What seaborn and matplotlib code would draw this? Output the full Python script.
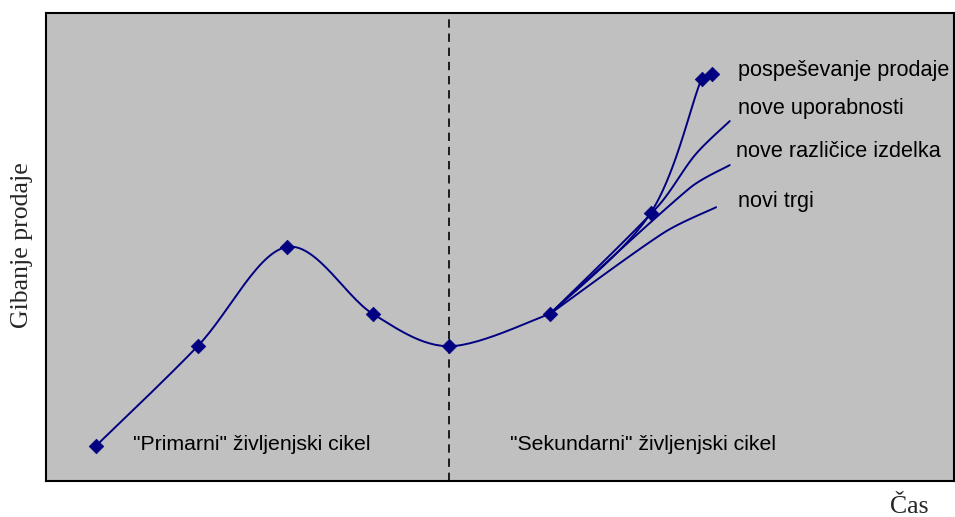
import numpy as np
import pandas as pd
import matplotlib
matplotlib.use("Agg")
import matplotlib.pyplot as plt
import seaborn as sns

# Main life-cycle curve (time, sales movement)
main_t = [5.5, 16.7, 26.5, 36.0, 44.4, 55.5]
main_v = [7.5, 28.8, 50.0, 35.7, 28.8, 35.7]

# Branches of the "secondary" life cycle, all starting from the last main point
promo_t = [55.5, 66.6, 72.2, 73.3]
promo_v = [35.7, 57.3, 85.9, 87.0]

uses_t = [55.5, 67.3, 71.5, 75.3]
uses_v = [35.7, 58.5, 69.7, 76.9]

variants_t = [55.5, 70.9, 75.3]
variants_v = [35.7, 62.6, 67.5]

markets_t = [55.5, 68.0, 73.8]
markets_v = [35.7, 53.0, 58.5]

divider_t = 44.4

branch_labels = ["pospeševanje prodaje", "nove uporabnosti",
                 "nove različice izdelka", "novi trgi"]
phase_labels = ['"Primarni" življenjski cikel', '"Sekundarni" življenjski cikel']

NAVY = "#000080"
GREY = "#C0C0C0"

# aspect of the plotting box (width, height per data unit) for the smoothing
SX, SY = 9.08, 4.68


def smooth(ts, vs, steps=30):
    """Bezier smoothing through the points with clamped control handles."""
    p = np.column_stack([np.asarray(ts) * SX, np.asarray(vs) * SY]).astype(float)
    n = len(p)
    out = [p[0]]

    def clamp(vec, limit):
        L = np.hypot(*vec)
        return vec if L <= limit or L == 0 else vec * (limit / L)

    for i in range(n - 1):
        p0 = p[i - 1] if i > 0 else p[i]
        p1, p2 = p[i], p[i + 1]
        p3 = p[i + 2] if i + 2 < n else p[i + 1]
        seg_len = np.hypot(*(p2 - p1))
        c1 = p1 + clamp((p2 - p0) / 6.0, seg_len / 3.0)
        c2 = p2 - clamp((p3 - p1) / 6.0, seg_len / 3.0)
        s = np.linspace(0, 1, steps)[1:, None]
        seg = ((1 - s) ** 3) * p1 + 3 * ((1 - s) ** 2) * s * c1 + 3 * (1 - s) * s ** 2 * c2 + s ** 3 * p2
        out.extend(seg)
    out = np.array(out)
    return out[:, 0] / SX, out[:, 1] / SY


sns.set_style("white")
plt.rcParams["font.family"] = ["Liberation Sans", "DejaVu Sans"]

fig = plt.figure(figsize=(9.55, 5.17), dpi=100)
ax = fig.add_axes([46 / 955, 36 / 517, 908 / 955, 468 / 517])
ax.set_facecolor(GREY)

curves = [(main_t, main_v), (markets_t, markets_v), (variants_t, variants_v),
          (uses_t, uses_v), (promo_t, promo_v)]
for ts, vs in curves:
    sx, sy = smooth(ts, vs)
    sns.lineplot(x=sx, y=sy, ax=ax, color=NAVY, linewidth=1.4, sort=False,
                 estimator=None, legend=False)

# Diamond markers on the measured points
pts = pd.DataFrame({
    "t": main_t + promo_t[1:],
    "v": main_v + promo_v[1:],
})
sns.scatterplot(data=pts, x="t", y="v", ax=ax, marker="D", s=55, color=NAVY,
                edgecolor=NAVY, linewidth=0.5, zorder=5, legend=False)

ax.axvline(divider_t, color="black", linestyle=(0, (5, 3.5)), linewidth=1.2)

ax.set_xlim(0, 100)
ax.set_ylim(0, 100)
ax.set_xticks([])
ax.set_yticks([])
ax.set_xlabel("")
ax.set_ylabel("")
for sp in ax.spines.values():
    sp.set_visible(True)
    sp.set_color("black")
    sp.set_linewidth(1.5)

# Branch labels
label_pos = [(0.762, 0.878), (0.762, 0.795), (0.760, 0.705), (0.762, 0.598)]
for text, (lx, ly) in zip(branch_labels, label_pos):
    ax.text(lx, ly, text, transform=ax.transAxes, fontsize=15.6, va="center",
            ha="left", color="black")

ax.text(0.0958, 0.077, phase_labels[0], transform=ax.transAxes, fontsize=15.3,
        va="center", ha="left", color="black")
ax.text(0.511, 0.077, phase_labels[1], transform=ax.transAxes, fontsize=15.3,
        va="center", ha="left", color="black")

fig.text(22 / 955, 1 - 245 / 517, "Gibanje prodaje", rotation=90,
         fontsize=18.5, family=["Liberation Serif", "DejaVu Serif"],
         va="center", ha="center")
fig.text(909 / 955, 1 - 507 / 517, "Čas", fontsize=18.5,
         family=["Liberation Serif", "DejaVu Serif"], va="center", ha="center")

fig.savefig("out.png", dpi=100, facecolor="white")
